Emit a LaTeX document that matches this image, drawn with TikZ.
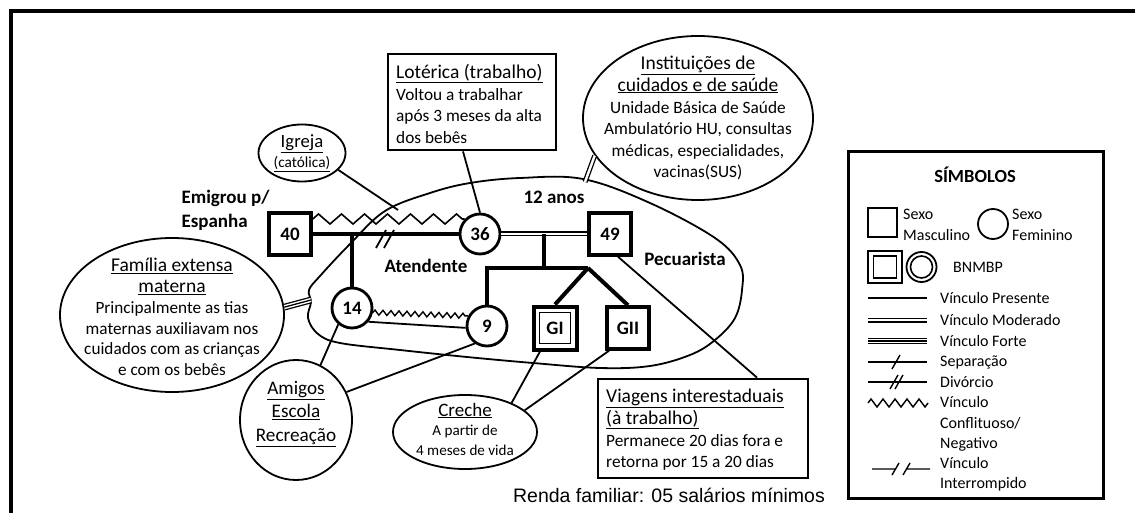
\documentclass[tikz,border=0pt]{standalone}
\usepackage{fontspec}
\setmainfont{Carlito}
\newfontfamily\rendafont{Liberation Sans}
\usetikzlibrary{calc,shapes.geometric,decorations.pathmorphing}
\newcommand\fsz[2]{\fontsize{#1}{#2}\selectfont}
\begin{document}
\begin{tikzpicture}[x=1pt,y=-1pt,
  male/.style={draw,rectangle,fill=white,line width=3.5pt,minimum size=42pt,inner sep=0pt,font=\bfseries\fsz{19}{23}},
  female/.style={draw,circle,fill=white,line width=2.8pt,minimum size=40pt,inner sep=0pt,font=\bfseries\fsz{19}{23}},
  bond/.style={line width=4pt},
  tie/.style={line width=1.8pt},
  moderate/.style={line width=1.3pt,double,double distance=2.4pt},
  strong/.style={line width=1.3pt,double,double distance=4.2pt},
  conflict/.style={line width=1.6pt,decorate,decoration={zigzag,segment length=23pt,amplitude=5pt}},
  smallconflict/.style={line width=1.4pt,decorate,decoration={zigzag,segment length=8pt,amplitude=2.5pt}},
  bubble/.style={draw,ellipse,line width=1.8pt,inner sep=0pt},
  infobox/.style={draw,rectangle,line width=2.8pt,inner sep=0pt},
  boxtext/.style={anchor=west,align=left,inner sep=0pt,font=\fsz{17.3}{21.7}},
  rolelabel/.style={font=\bfseries\fsz{19}{24}},
  lgtext/.style={anchor=west,align=left,inner sep=0pt,font=\fsz{16}{20.5}},
]
\useasboundingbox (0,0) rectangle (1135,513);
\clip (0,0) rectangle (1135,513);
% outer frame
\draw[line width=4pt] (11,11) rectangle (1160,540);

% household boundary
\draw[line width=1.8pt] plot[smooth cycle,tension=0.6] coordinates {
  (470,183) (520,178) (583,179) (650,203) (715,238) (740,265) (742,290)
  (735,318) (715,340) (690,355) (650,366) (600,368) (533,363) (467,357)
  (400,350) (340,343) (318,334) (308,318) (311,302) (309,290) (320,276)
  (350,244) (385,211) (430,193)};
\coordinate (famtop) at (585,182);
\coordinate (famleft) at (311,300);
\coordinate (zigmeet) at (398,210);

% family members
\node[male] (n40) at (290,234) {40};
\node[female] (n36) at (480,234) {36};
\node[male] (n49) at (610,234) {49};
\node[female] (n14) at (352,308) {14};
\node[female] (n9) at (487,326) {9};
\node[male,line width=4pt,minimum size=43pt] (gi) at (555,328) {GI};
\draw[line width=1.8pt] ($(gi.center)+(-15.5,-15.5)$) rectangle ($(gi.center)+(15.5,15.5)$);
\node[male] (gii) at (628,328) {GII};

% family ties
\draw[bond] (n40) -- (n36);
\draw[line width=1.8pt] (376,248) -- (386,230) (384,248) -- (394,230);
\draw[conflict] ($(n40.east)+(0,-15)$) -- ($(n36.center)+(-15.5,-15)$);
\draw[moderate] (n36) -- (n49);
\coordinate (kids) at ($(n36.east)!0.5!(n49.west)$);
\coordinate (twin) at (588,268);
\draw[bond] (kids) -- (kids |- twin);
\draw[bond] (n9.north) |- (twin);
\draw[bond] (twin) -- (gi.north);
\draw[bond] (twin) -- (gii.north);
\draw[bond] (n14.north) -- (n14.north |- n40.east);
\draw[smallconflict] (n14.-12) -- (n9.152);
\draw[tie] (n14.-40) -- (n9.185);

% role labels
\node[rolelabel,anchor=west,align=left] (emig) at (178,210) {Emigrou p/\\Espanha};
\node[rolelabel] (anos) at (554,197) {12 anos};
\node[rolelabel] (atend) at (426,266) {Atendente};
\node[rolelabel] (pecu) at (685,259) {Pecuarista};

% church
\node[bubble,minimum width=87pt,minimum height=57pt] (igreja) at (302,153) {};
\node[align=center,font=\fsz{18.7}{20}] at (302,153) {\underline{Igreja}\\{\fsz{15.3}{20}\underline{(católica)}}};
\draw[tie] (igreja.-25) -- (zigmeet);

% workplace
\node[infobox,minimum width=168pt,minimum height=96pt] (lot) at (472,102) {};
\node[boxtext] (lottxt) at (396,104)
  {{\fsz{19.5}{21.7}\underline{Lotérica (trabalho)}}\\Voltou a trabalhar\\após 3 meses da alta\\dos bebês};
\draw[tie] ([xshift=-9pt]lot.south) -- (n36.north);

% health services
\node[bubble,minimum width=230pt,minimum height=164pt] (inst) at (698,118) {};
\node[align=center,font=\fsz{17.3}{21.3}] at (698,118)
  {{\fsz{19.5}{21.3}\underline{Instituições de}}\\{\fsz{19.5}{21.3}\underline{cuidados e de saúde}}\\[1pt]Unidade Básica de Saúde\\Ambulatório HU, consultas\\médicas, especialidades,\\vacinas(SUS)};
\draw[moderate] (inst.200) -- (famtop);

% extended family
\node[bubble,minimum width=224pt,minimum height=154pt] (fam) at (172,315) {};
\node[align=center,font=\fsz{17.2}{20.8}] at (172,317)
  {{\fsz{19.5}{20.8}\underline{Família extensa}}\\{\fsz{19.5}{20.8}\underline{materna}}\\Principalmente as tias\\maternas auxiliavam nos\\cuidados com as crianças\\e com os bebês};
\draw[strong] (fam.4) -- (famleft);
\draw[line width=1.3pt] (fam.4) -- (famleft);

% friends
\node[bubble,minimum width=112pt,minimum height=120pt] (amigos) at (296,420) {};
\node[align=center,font=\fsz{19.2}{23.5}] at (296,414) {\underline{Amigos}\\\underline{Escola}\\\underline{Recreação}};
\draw[tie] (amigos.66) -- (n14.-130);
\draw[tie] (amigos.29) -- (n9.-125);

% day care
\node[bubble,minimum width=144pt,minimum height=74pt] (creche) at (465,432) {};
\node[align=center,font=\fsz{15.1}{19.5}] at (465,429) {{\fsz{19}{19.5}\underline{Creche}}\\A partir de\\4 meses de vida};
\draw[tie] (creche.32) -- ([xshift=-15pt]gi.south);
\draw[tie] (creche.20) -- ([xshift=-19pt]gii.south);

% travels
\node[infobox,minimum width=210pt,minimum height=99pt] (via) at (703,428.5) {};
\node[boxtext] (viatxt) at (606,430)
  {{\fsz{19.5}{21.7}\underline{Viagens interestaduais}}\\{\fsz{19.5}{21.7}\underline{(à trabalho)}}\\Permanece 20 dias fora e\\retorna por 15 a 20 dias};
\draw[tie] ([xshift=8pt]n49.south) -- ([xshift=54pt]via.north);

% income
\node[font=\rendafont\fsz{19.5}{23}] (renda) at (669,495) {Renda familiar: 05 salários mínimos};

% legend
\node[draw,line width=3pt,minimum width=255pt,minimum height=346pt,inner sep=0pt] (legend) at (975.5,325) {};
\node[font=\bfseries\fsz{18.5}{22}] (lgtitle) at (975,175) {SÍMBOLOS};
\node[draw,line width=2pt,minimum size=29pt,inner sep=0pt] (lgmale) at (882,223) {};
\node[lgtext] (lgmaletxt) at (903,225) {Sexo\\Masculino};
\node[draw,circle,line width=1.8pt,minimum size=30pt,inner sep=0pt] (lgfemale) at (993,224) {};
\node[lgtext] (lgfemaletxt) at (1012,225) {Sexo\\Feminino};
\node[draw,line width=2.8pt,minimum width=34pt,minimum height=32pt,inner sep=0pt] (lgbsq) at (885,267) {};
\draw[line width=1.6pt] ($(lgbsq.center)+(-11.5,-11)$) rectangle ($(lgbsq.center)+(11.5,11)$);
\node[draw,circle,line width=1.8pt,minimum size=30pt,inner sep=0pt] (lgbci) at (921.5,267) {};
\draw[line width=1.6pt] (lgbci.center) circle[radius=11pt];
\node[lgtext] (lgbn) at (953,267) {BNMBP};

\draw[line width=1.2pt] (868,298) -- (927,298);
\node[lgtext] at (940,298) {Vínculo Presente};
\draw[moderate] (868,320) -- (927,320);
\node[lgtext] at (940,320) {Vínculo Moderado};
\draw[strong] (868,341) -- (927,341);
\draw[line width=1.3pt] (868,341) -- (927,341);
\node[lgtext] at (940,341) {Vínculo Forte};
\draw[line width=2.4pt] (868,362) -- (927,362);
\draw[line width=1.4pt] (892,369) -- (900,355);
\node[lgtext] at (940,362) {Separação};
\draw[line width=2.4pt] (868,382) -- (927,382);
\draw[line width=1.4pt] (890,389) -- (898,375) (895,389) -- (903,375);
\node[lgtext] at (940,382) {Divórcio};
\draw[line width=1.4pt,decorate,decoration={zigzag,segment length=12pt,amplitude=4pt}] (868,403) -- (928,403);
\node[lgtext] at (940,424) {Vínculo\\Conflituoso/\\Negativo};
\draw[line width=1.4pt] (872,469) -- (895,469) (892,475) -- (899,463)
  (903,475) -- (910,463) (907,469) -- (930,469);
\node[lgtext] at (940,474) {Vínculo\\Interrompido};
\end{tikzpicture}
\end{document}
